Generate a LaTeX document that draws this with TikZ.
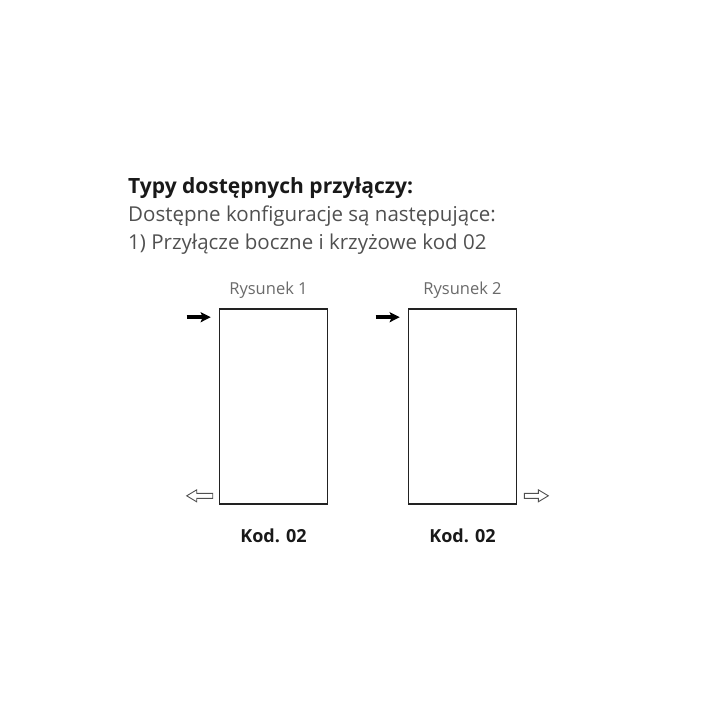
\documentclass[tikz,border=0pt]{standalone}
\usepackage{fontspec}
\setmainfont{Open Sans}
\usetikzlibrary{arrows.meta,positioning}
\definecolor{txtgray}{HTML}{505050}
\definecolor{boxline}{HTML}{222222}
\begin{document}
\begin{tikzpicture}[x=1pt,y=-1pt,
		every node/.style={inner sep=0pt},
		rysunek/.style={draw=boxline,line width=1.6pt,minimum width=108pt,minimum height=195pt},
		opis/.style={text=txtgray!85,font=\fontsize{16.5}{19}\selectfont},
		kod/.style={font=\bfseries\fontsize{18}{21}\selectfont,text=black!90},
		wlot/.style={line width=4pt,-{Stealth[length=10pt,width=10pt,inset=2pt]}},
		wylot/.style={draw=txtgray,line width=0.9pt,line join=miter,fill=white}]
	\useasboundingbox (0,0) rectangle (720,720);
	% naglowek
	\node[anchor=base west,font=\bfseries\fontsize{21}{25}\selectfont,text=black!90] (tytul) at (128,193) {Typy dostępnych przyłączy:};
	\node[anchor=base west,font=\fontsize{20.5}{24}\selectfont,text=txtgray] (linia1) at (128,221) {Dostępne konfiguracje są następujące:};
	\node[anchor=base west,font=\fontsize{20.5}{24}\selectfont,text=txtgray] (linia2) at (128,249) {1) Przyłącze boczne i krzyżowe kod 02};
	% rysunek 1
	\node[rysunek] (r1) at (273.5,406.5) {};
	\node[opis,above=10pt of r1.north,xshift=-5pt] (r1opis) {Rysunek 1};
	\node[kod,below=24pt of r1.south] (r1kod) {Kod. 02};
	\coordinate (r1we) at ([xshift=-32pt,yshift=-9pt]r1.north west);
	\coordinate (r1wy) at ([xshift=-32pt,yshift=9pt]r1.south west);
	\draw[wlot] (r1we) -- ([xshift=-8pt]r1we -| r1.west);
	\draw[wylot] (r1wy) -- ++(10,-6) -- ++(0,3.5) -- ++(16,0) -- ++(0,5) -- ++(-16,0) -- ++(0,3.5) -- cycle;
	% rysunek 2
	\node[rysunek] (r2) at (462.5,406.5) {};
	\node[opis,above=10pt of r2.north] (r2opis) {Rysunek 2};
	\node[kod,below=24pt of r2.south] (r2kod) {Kod. 02};
	\coordinate (r2we) at ([xshift=-32pt,yshift=-9pt]r2.north west);
	\coordinate (r2wy) at ([xshift=31pt,yshift=9pt]r2.south east);
	\draw[wlot] (r2we) -- ([xshift=-8pt]r2we -| r2.west);
	\draw[wylot] (r2wy) -- ++(-10,-6) -- ++(0,3.5) -- ++(-14,0) -- ++(0,5) -- ++(14,0) -- ++(0,3.5) -- cycle;
\end{tikzpicture}
\end{document}
